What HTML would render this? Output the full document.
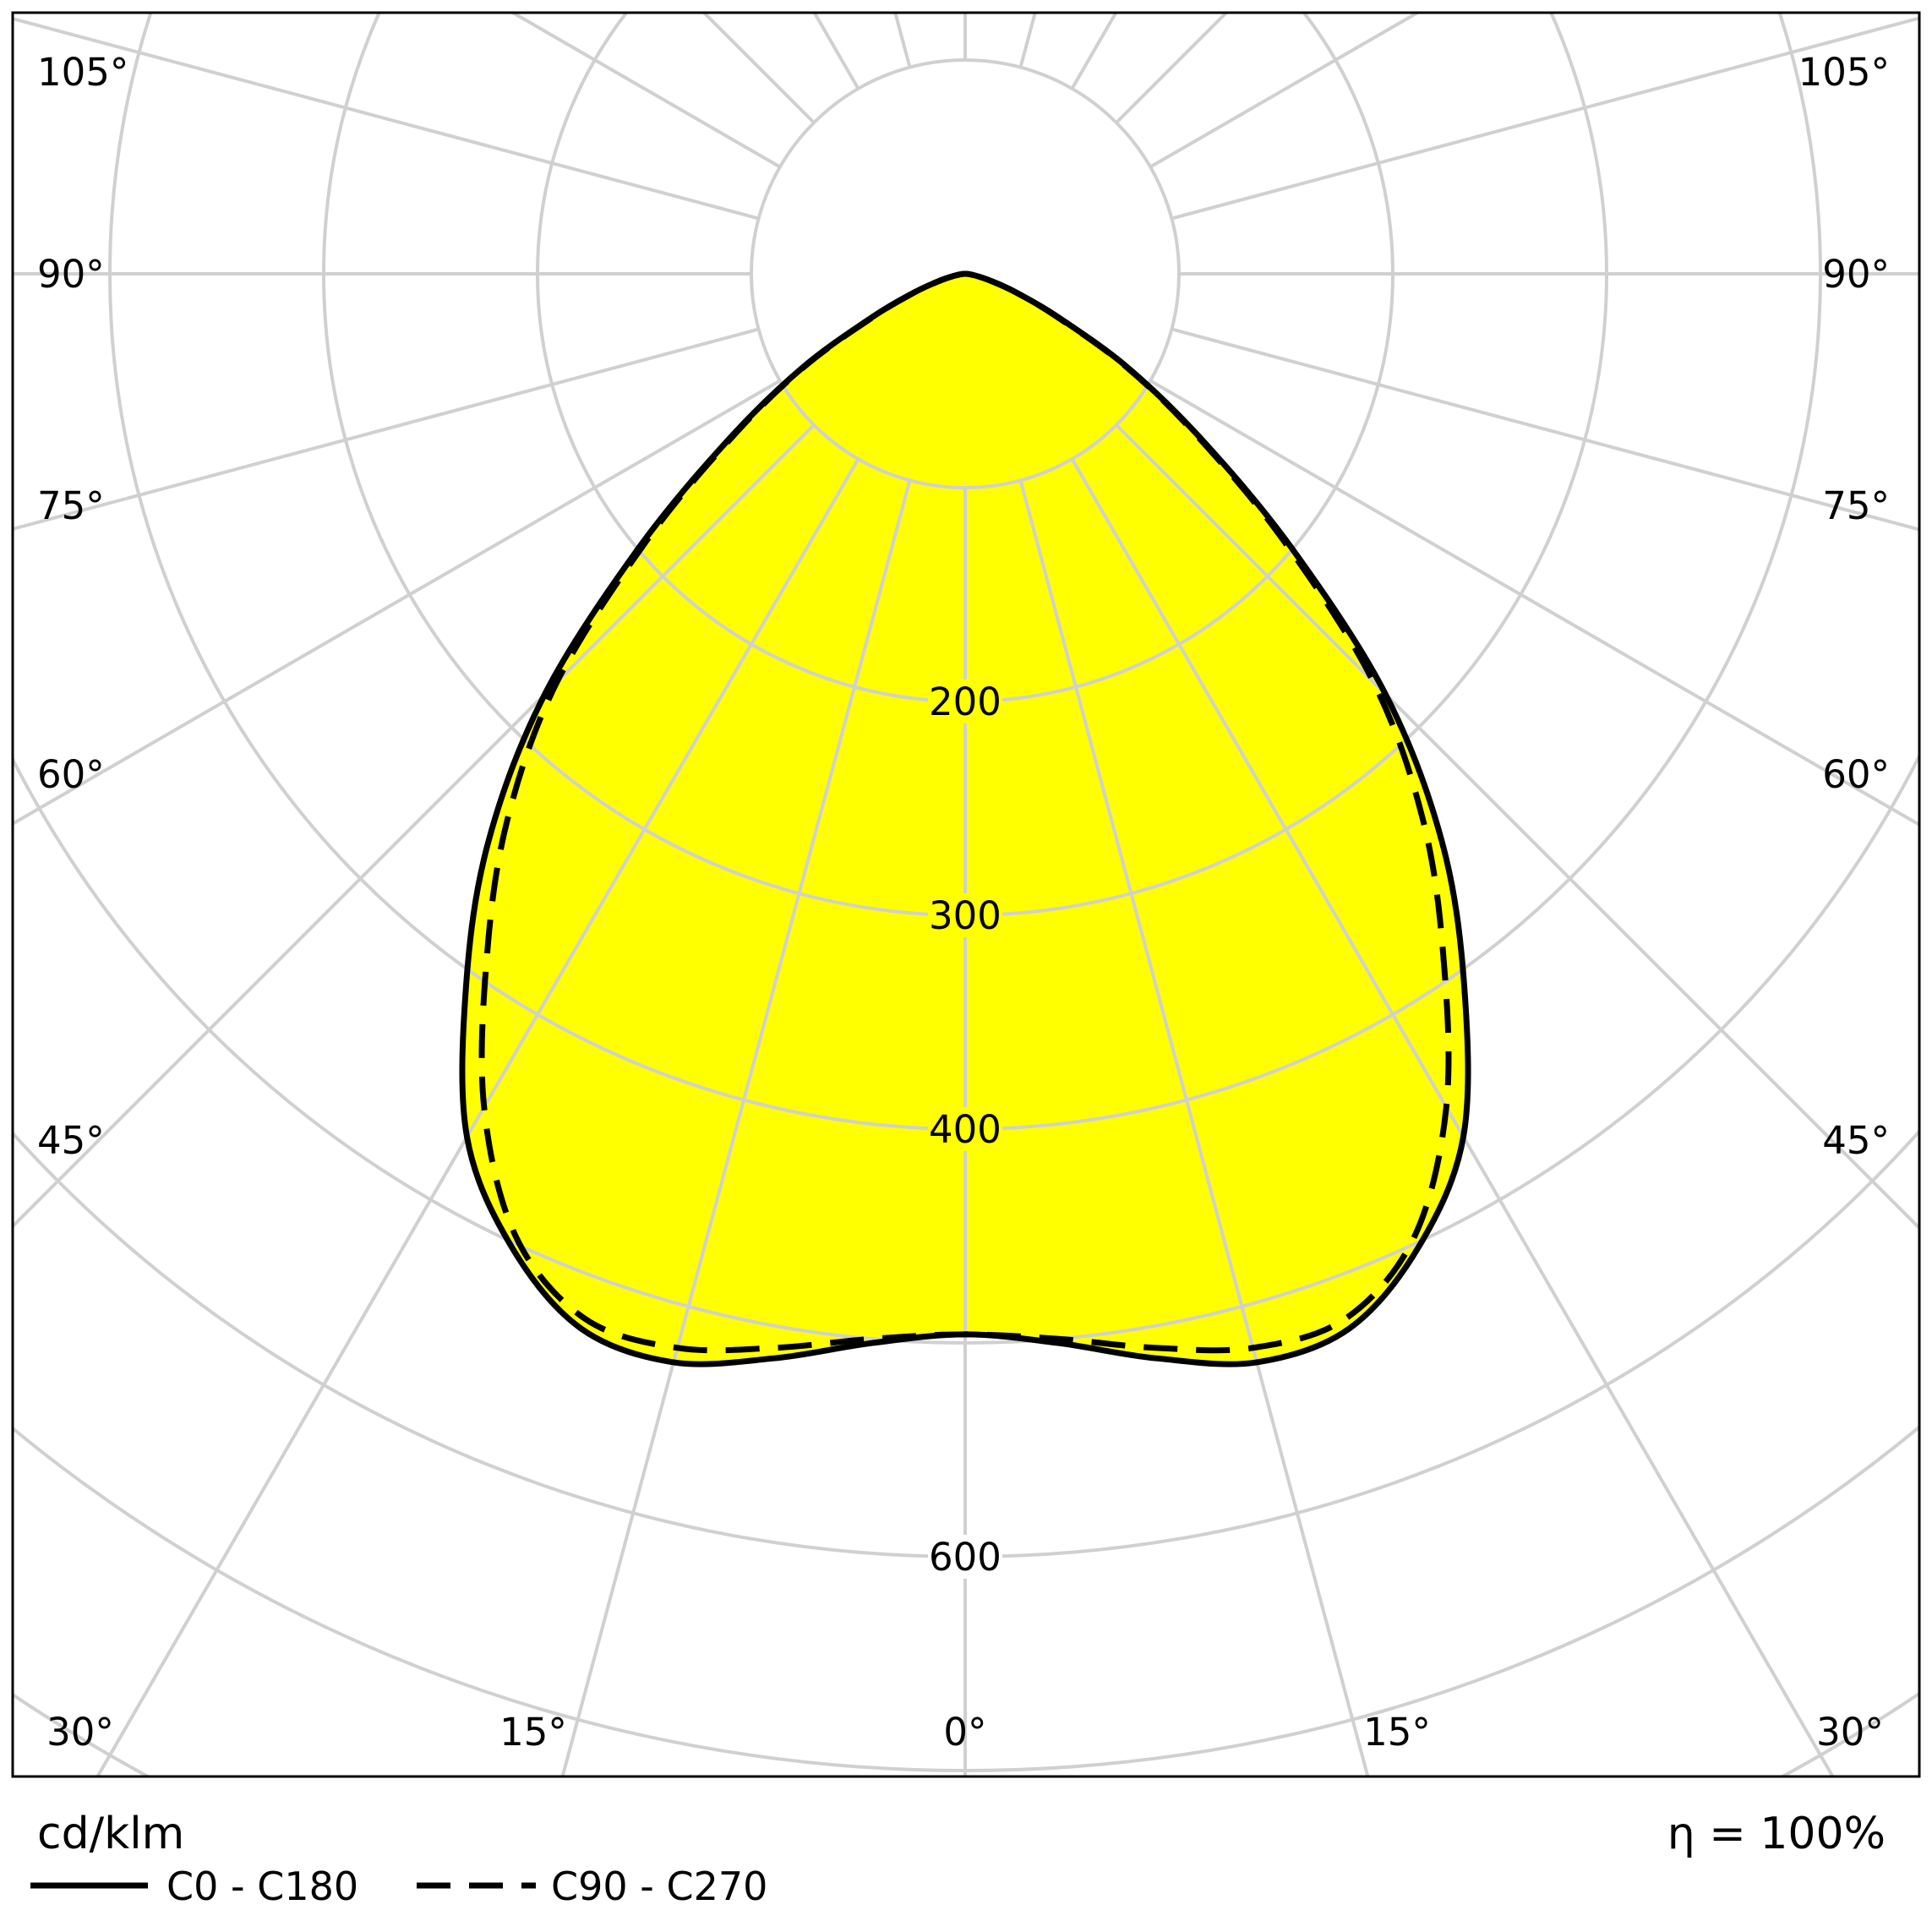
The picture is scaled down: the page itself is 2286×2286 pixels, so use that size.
<!DOCTYPE html>
<html><head><meta charset="utf-8"><style>
html,body{margin:0;padding:0;background:#fff;width:2286px;height:2286px;overflow:hidden;}
svg{display:block;font-family:"DejaVu Sans","Liberation Sans",sans-serif;}
</style></head><body>
<svg id="chart" width="2286" height="2286" viewBox="0 0 2286 2286" xmlns="http://www.w3.org/2000/svg">
<defs><clipPath id="frameClip"><rect x="15" y="15" width="2256" height="2087"/></clipPath></defs>
<rect x="0" y="0" width="2286" height="2286" fill="#fff"/>
<g id="plot" clip-path="url(#frameClip)"></g>
<rect x="15" y="15" width="2256" height="2087" fill="none" stroke="#000" stroke-width="3"/>
<text x="44" y="2187" font-size="52">cd/klm</text>
<text x="2231" y="2187" font-size="52" text-anchor="end">η = 100%</text>
<line x1="36" y1="2231" x2="175" y2="2231" stroke="#000" stroke-width="7"/>
<text x="197" y="2248" font-size="46">C0 - C180</text>
<line x1="493" y1="2231" x2="634" y2="2231" stroke="#000" stroke-width="7" stroke-dasharray="40,22"/>
<text x="652" y="2248" font-size="46">C90 - C270</text>
</svg>
<script>
const angles = [0,5,10,15,20,25,30,35,40,45,50,55,60,65,70,75,80,85,90];
const c0c180 = [496,502,515,527,525,502,466,407,347,278,199,135,88,48,25,12,5,2,0];
const c90c270 = [496,500,510,520,520,497,450,390,333,270,195,133,87,47,25,12,5,2,0];
const ringValues = [100,200,300,400,500,600,700,800,900,1000];
const ringLabels = ["200","300","400","600"];
const angleLabelsSide = ["105°","90°","75°","60°","45°"];
const angleLabelsBottom = ["30°","15°","0°","15°","30°"];

const NS="http://www.w3.org/2000/svg";
const cx=1142, cy=324, k=2.53;
const plot=document.getElementById('plot');
const svg=document.getElementById('chart');
function mk(tag,attrs,parent){const e=document.createElementNS(NS,tag);for(const a in attrs)e.setAttribute(a,attrs[a]);(parent||plot).appendChild(e);return e;}
function pt(v,deg){const r=v*k, t=deg*Math.PI/180;return [cx+r*Math.sin(t), cy+r*Math.cos(t)];}
function pts(vals,side){let p=[];for(let i=0;i<angles.length;i++){p.push(pt(vals[i],angles[i]*side));}return p;}
function full(vals){
  const r=pts(vals,1), l=pts(vals,-1).reverse();
  const all=l.concat(r.slice(1,r.length-1));
  const n=all.length;
  let d='M'+all[0][0].toFixed(1)+','+all[0][1].toFixed(1);
  for(let i=0;i<n;i++){
    const p0=all[(i-1+n)%n],p1=all[i],p2=all[(i+1)%n],p3=all[(i+2)%n];
    const c1=[p1[0]+(p2[0]-p0[0])/6,p1[1]+(p2[1]-p0[1])/6];
    const c2=[p2[0]-(p3[0]-p1[0])/6,p2[1]-(p3[1]-p1[1])/6];
    d+=' C'+c1[0].toFixed(1)+','+c1[1].toFixed(1)+' '+c2[0].toFixed(1)+','+c2[1].toFixed(1)+' '+p2[0].toFixed(1)+','+p2[1].toFixed(1);
  }
  return d+' Z';
}

const fill=mk('path',{d:full(c0c180),fill:'#ffff00',stroke:'none'});


ringValues.forEach(v=>{const c=mk('circle',{cx:cx,cy:cy,r:v*k,fill:'none',stroke:'#d0d0d0','stroke-width':4});

});
for(let a=0;a<360;a+=15){const p1=pt(100,a),p2=pt(1200,a);
const l=mk('line',{x1:p1[0],y1:p1[1],x2:p2[0],y2:p2[1],stroke:'#d0d0d0','stroke-width':4});

}
const d2=mk('path',{d:full(c90c270),fill:'none',stroke:'#000','stroke-width':7,'stroke-dasharray':'40,22'});


const d1=mk('path',{d:full(c0c180),fill:'none',stroke:'#000','stroke-width':7,'stroke-linejoin':'round'});


ringLabels.forEach(s=>{const v=+s;const y=cy+v*k;const bg=v<500?'#ffff00':'#ffffff';
const r=mk('rect',{x:cx-44,y:y-26,width:88,height:52,fill:bg});


const t=mk('text',{x:cx,y:y+16,'font-size':45,'text-anchor':'middle'});t.textContent=s;

});
const sideY=[85,324,598,916,1349];
angleLabelsSide.forEach((s,i)=>{
const t=mk('text',{x:44,y:sideY[i]+16,'font-size':45},svg);t.textContent=s;


const t2=mk('text',{x:2236,y:sideY[i]+16,'font-size':45,'text-anchor':'end'},svg);t2.textContent=s;

});
const botX=[95,631,1142,1653,2189];
angleLabelsBottom.forEach((s,i)=>{
const t=mk('text',{x:botX[i],y:2065,'font-size':45,'text-anchor':'middle'},svg);t.textContent=s;

});
</script>
</body></html>
